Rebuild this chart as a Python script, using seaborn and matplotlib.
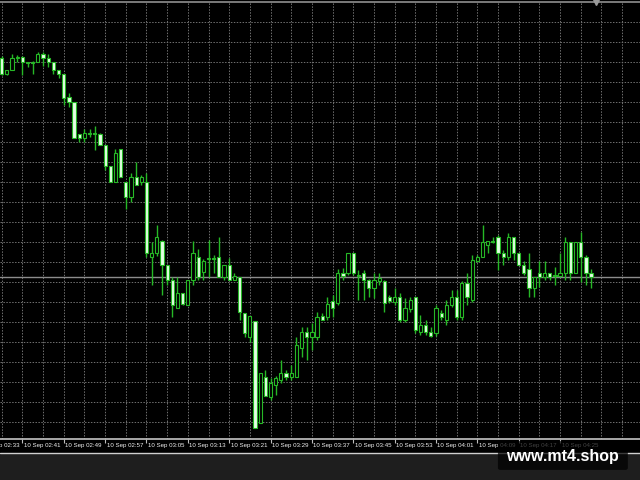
import pandas as pd
import numpy as np
import matplotlib.pyplot as plt
import matplotlib.ticker as mticker
import matplotlib.transforms as mtransforms
from matplotlib.patches import FancyBboxPatch, Rectangle
from matplotlib.lines import Line2D
import seaborn as sns

sns.set_theme(style="dark", rc={
    "axes.facecolor": "black",
    "figure.facecolor": "black",
    "axes.edgecolor": "#9a9a9a",
})
plt.rcParams['font.family'] = ['Liberation Sans', 'DejaVu Sans']

# 1-minute bars, prices in points (0.00001) above 1.17000
opens = [442, 426, 430, 442, 443, 438, 438, 438, 446, 442,
         438, 430, 426, 403, 398, 366, 362, 367, 367, 366,
         355, 334, 318, 351, 318, 303, 323, 318, 318, 243,
         247, 259, 235, 220, 192, 207, 195, 220, 243, 228,
         242, 242, 243, 223, 235, 220, 223, 187, 163, 179,
         77, 123, 103, 115, 120, 127, 123, 123, 152, 168,
         163, 163, 184, 183, 199, 197, 227, 227, 247, 225,
         227, 220, 212, 219, 219, 203, 198, 203, 180, 191,
         203, 168, 175, 168, 167, 187, 180, 195, 203, 183,
         217, 200, 239, 243, 255, 259, 263, 247, 243, 263,
         247, 235, 231, 212, 227, 223, 227, 225, 224, 227,
         258, 227, 258, 243, 227]
highs = [444, 430, 446, 445, 444, 438, 439, 448, 448, 446,
         438, 430, 426, 407, 398, 366, 371, 371, 374, 367,
         355, 334, 351, 351, 318, 327, 338, 325, 327, 258,
         275, 260, 235, 223, 223, 207, 220, 259, 251, 241,
         260, 245, 263, 235, 242, 227, 223, 187, 184, 179,
         127, 130, 122, 124, 140, 130, 135, 163, 173, 173,
         177, 188, 187, 203, 205, 231, 232, 247, 247, 230,
         230, 221, 227, 227, 220, 205, 212, 207, 202, 203,
         203, 185, 180, 173, 195, 190, 200, 210, 210, 219,
         227, 245, 245, 275, 259, 263, 265, 250, 267, 263,
         247, 239, 247, 223, 239, 239, 227, 233, 247, 263,
         258, 258, 268, 245, 231]
lows = [425, 425, 430, 438, 425, 433, 426, 438, 434, 433,
        426, 422, 395, 393, 362, 358, 358, 363, 350, 355,
        330, 318, 318, 323, 291, 298, 315, 315, 243, 215,
        244, 205, 215, 183, 192, 195, 195, 215, 220, 220,
        223, 227, 223, 220, 220, 220, 180, 163, 158, 72,
        77, 104, 100, 105, 117, 120, 120, 123, 143, 140,
        150, 160, 180, 180, 183, 195, 220, 225, 225, 200,
        200, 203, 202, 215, 188, 197, 195, 178, 178, 188,
        167, 165, 165, 163, 164, 180, 175, 193, 180, 180,
        195, 198, 238, 243, 247, 257, 230, 235, 240, 240,
        235, 225, 203, 203, 213, 220, 220, 215, 223, 220,
        220, 227, 218, 215, 212]
closes = [426, 430, 442, 443, 438, 437.5, 437.5, 446, 442, 438,
          430, 426, 402, 398, 362, 362, 367, 366.5, 366.5, 355,
          334, 318, 347, 323, 303, 323, 315, 323, 247, 247,
          263, 235, 220, 195, 207, 196, 220, 247, 223, 239,
          241.5, 241.5, 223, 235, 220, 224, 188, 167, 184, 72,
          127, 104, 117, 122, 127, 123, 127, 155, 168, 163,
          168, 183, 180, 196, 192, 227, 224, 247, 227, 224,
          220, 212, 220, 222, 197, 199, 203, 180, 192, 200,
          170, 175, 168, 164, 192, 183, 195, 203, 183, 217,
          203, 240, 243, 258, 259, 258.5, 247, 243, 263, 247,
          235, 227, 212, 223, 223, 227, 223, 224.5, 227, 258,
          227, 258, 243, 227, 223]

start_time = "2023-09-10 02:37"
tick_labels = ["10 Sep 02:33", "10 Sep 02:41", "10 Sep 02:49", "10 Sep 02:57",
               "10 Sep 03:05", "10 Sep 03:13", "10 Sep 03:21", "10 Sep 03:29",
               "10 Sep 03:37", "10 Sep 03:45", "10 Sep 03:53", "10 Sep 04:01",
               "10 Sep 04:09", "10 Sep 04:17", "10 Sep 04:25"]

df = pd.DataFrame({"Open": opens, "High": highs, "Low": lows, "Close": closes})
df["Time"] = pd.date_range(start_time, periods=len(df), freq="min")
df["Bar"] = np.arange(len(df))
df["Bear"] = df["Close"] < df["Open"]

wick_col = "#26b826"
bear_fill = "#e4ffe4"
grid_col = "#707070"

fig = plt.figure(figsize=(6.4, 4.8), dpi=100)
ax = fig.add_axes([0, 1 - 439 / 480, 1, 437 / 480])
ax.set_facecolor("black")

ax.vlines(df["Bar"], df["Low"], df["High"], color=wick_col, lw=1.0, zorder=2)
body_lo = df[["Open", "Close"]].min(axis=1)
body_h = (df["Close"] - df["Open"]).abs().clip(lower=0.6)
ax.bar(df["Bar"], body_h, bottom=body_lo, width=0.62,
       color=np.where(df["Bear"], bear_fill, "black"),
       edgecolor=wick_col, linewidth=0.8, zorder=3)

# bid line
ax.axhline(df["Close"].iloc[-1], color="#8c8c8c", lw=1.0, zorder=1)

label_times = pd.to_datetime(["2023-" + pd.to_datetime(t, format="%d %b %H:%M").strftime("%m-%d %H:%M")
                              for t in tick_labels])
tick_pos = ((label_times - df["Time"].iloc[0]) / pd.Timedelta(minutes=1)).values
ax.set_xticks(tick_pos)
ax.set_xticklabels([])

ax.set_xlim(-0.33, 123.46)
ax.set_ylim(61, 498)

# time labels drawn as text so the clipped first one still shows
lbl_tr = mtransforms.offset_copy(ax.get_xaxis_transform(), fig=fig, x=1.5, y=0, units="dots")
for xp, lab in zip(tick_pos, tick_labels):
    ax.text(xp, -0.0155, lab, transform=lbl_tr, ha="left", va="center",
            fontsize=4.4, color="#f0f0f0", clip_on=False)

ax.xaxis.set_minor_locator(mticker.MultipleLocator(4))
ax.yaxis.set_major_locator(mticker.MultipleLocator(20, offset=18.3))
ax.grid(True, which="both", axis="x", color=grid_col, lw=0.7, ls=(0, (1.5, 1.5)), zorder=0)
ax.grid(True, which="major", axis="y", color=grid_col, lw=0.7, ls=(0, (1.5, 1.5)), zorder=0)

ax.tick_params(axis="x", which="major", direction="out", length=3, width=0.8,
               color="#bdbdbd", pad=1.5, bottom=True)
ax.tick_params(axis="x", which="minor", length=0)
ax.tick_params(axis="y", left=False, labelleft=False)

for s in ["left", "right"]:
    ax.spines[s].set_visible(False)
ax.spines["bottom"].set_color("#bdbdbd")
ax.spines["top"].set_color("#8a8a8a")

# chart shift marker
ax.plot([len(df)], [1.0], marker="v", color="#9a9a9a", markersize=4,
        transform=ax.get_xaxis_transform(), clip_on=False, zorder=5)

# bottom strip
fig.add_artist(Rectangle((0, 0), 1, 1 - 454 / 480, transform=fig.transFigure,
                         facecolor="#1e1e1e", edgecolor="none", zorder=0))
fig.add_artist(Line2D([0, 1], [1 - 453 / 480] * 2, transform=fig.transFigure,
                      color="#cfcfcf", lw=1.0))

# watermark
fig.add_artist(FancyBboxPatch((0.782, 0.025), 0.195, 0.052,
                              boxstyle="round,pad=0.004", transform=fig.transFigure,
                              facecolor="black", edgecolor="none", alpha=0.72, zorder=10))
fig.text(0.879, 0.048, "www.mt4.shop", color="white", fontsize=11.5,
         fontweight="bold", ha="center", va="center", zorder=11,
         family=["Liberation Sans", "DejaVu Sans"])

fig.savefig("out.png", dpi=100, facecolor="black")
